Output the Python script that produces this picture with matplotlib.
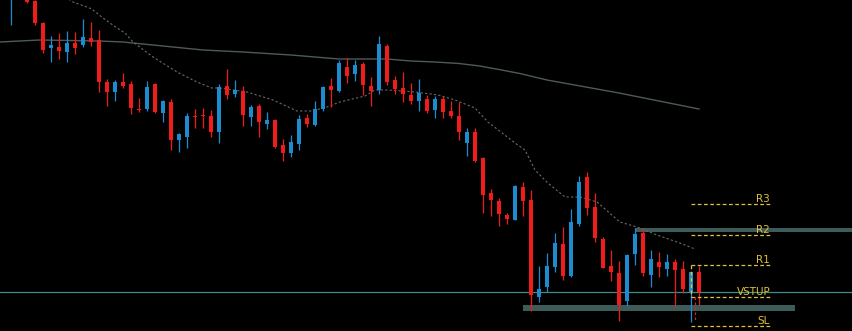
import numpy as np
import matplotlib
matplotlib.use("Agg")
import matplotlib.pyplot as plt
from matplotlib.patches import Rectangle

# candle data in chart units (top of chart = 0, bottom = 331, axis is inverted)
opens = [-5, -25, -8, 1, 23, 48, 47, 52, 43, 45, 38, 40, 82, 92, 82, 84, 109, 109, 84, 113,
         102, 140, 137, 116, 115, 116, 132, 86, 94, 91, 117, 106, 124, 120, 145, 153, 144, 118, 125, 109,
         86, 91, 67, 74, 64, 86, 90, 46, 80, 88, 95, 101, 99, 110, 99, 111, 116, 143, 132, 158,
         193, 201, 215, 220, 187, 200, 297, 287, 267, 244, 276, 224, 177, 207, 239, 266, 273, 301, 254, 233,
         275, 262, 269, 262, 269, 292, 272]
highs = [-30, -32, -15, 0, 22, 36, 33, 31, 32, 19, 22, 30, 79, 80, 73, 81, 98, 81, 83, 100,
         99, 133, 113, 109, 108, 110, 84, 69, 80, 86, 105, 104, 112, 119, 139, 135, 115, 114, 101, 86,
         78, 60, 58, 60, 62, 77, 36, 44, 76, 72, 83, 79, 95, 96, 96, 101, 102, 128, 128, 157,
         189, 198, 213, 185, 182, 190, 266, 253, 233, 227, 209, 176, 172, 193, 237, 250, 261, 254, 228, 229,
         250, 252, 254, 259, 261, 272, 266]
lows = [25, -3, 3, 25, 53, 62, 59, 62, 54, 47, 46, 92, 106, 101, 88, 114, 112, 111, 113, 122,
        150, 152, 148, 128, 128, 137, 143, 99, 97, 126, 126, 137, 129, 148, 161, 157, 150, 127, 126, 111,
        107, 92, 83, 81, 95, 106, 94, 85, 94, 102, 104, 111, 113, 118, 118, 118, 140, 156, 162, 213,
        216, 226, 224, 220, 216, 311, 302, 292, 272, 280, 277, 226, 215, 242, 268, 281, 321, 306, 265, 276,
        287, 277, 276, 307, 293, 322, 305]
closes = [-20, -8, 2, 23, 50, 45, 51, 43, 48, 37, 42, 82, 92, 82, 86, 108, 110, 87, 112, 101,
          140, 134, 116, 117, 116, 132, 87, 95, 90, 115, 107, 122, 120, 147, 153, 142, 119, 124, 109, 87,
          90, 63, 76, 65, 85, 91, 44, 82, 89, 94, 101, 93, 111, 99, 112, 116, 132, 132, 161, 195,
          200, 214, 219, 186, 201, 295, 289, 266, 243, 276, 222, 182, 208, 238, 268, 272, 305, 255, 234, 273,
          259, 267, 262, 270, 289, 272, 292]

# moving averages read at some bars
slow_ma_x = [-1.4, 3.6, 11, 14, 19, 24, 29, 35, 41, 47, 50, 53, 56, 58.6, 61, 63.6, 67, 76, 86]
slow_ma_y = [42, 40, 41, 42, 46, 50, 52, 55, 59, 59, 61, 62, 63.5, 66, 69.5, 73.5, 80, 93, 109]
fast_ma_x = [6.5, 7.75, 9.5, 10.1, 11.5, 13.25, 14.25, 15.25, 17.75, 20.75, 23.25, 25.1, 26.1, 29.5, 32.75,
             35.75, 37.6, 39.5, 41.1, 44.25, 45.5, 47.1, 50.5, 53.4, 55.5, 58, 59.6, 61.4, 63, 64.25,
             65.5, 67.1, 69.25, 71.1, 73.25, 76.1, 78.25, 80.75, 83.6, 85.5]
fast_ma_y = [-5, 2, 7, 9, 18, 28, 33, 42, 57, 72, 82, 88, 88, 92, 100,
             111, 111, 107, 102, 96, 90, 90, 92, 95, 100, 108, 122, 133, 143, 150,
             170, 183, 197, 197, 202, 222, 227, 235, 243, 249]

# levels
base_line = 292
zone_low = (305, 311)
zone_high = (228, 232)
level_names = ["R3", "R2", "R1", "VSTUP", "SL"]
level_values = [204, 235, 265, 297, 326]

red = "#f01c1c"
blue = "#1c8cd0"
yellow = "#e0c03c"
zone_col = "#3c5b59"

fig = plt.figure(figsize=(8.53, 3.31), dpi=100, facecolor="black")
ax = fig.add_axes([0, 0, 1, 1])
ax.set_facecolor("black")
ax.set_xlim(-1.375, 105.25)
ax.set_ylim(331, 0)
ax.axis("off")

x = np.arange(len(opens))
o = np.array(opens, float)
h = np.array(highs, float)
l = np.array(lows, float)
c = np.array(closes, float)
up = c < o
cols = np.where(up, blue, red)

# zones and base line
ax.add_patch(Rectangle((64, zone_low[0]), 34, zone_low[1] - zone_low[0], color=zone_col, lw=0, zorder=1))
ax.add_patch(Rectangle((78, zone_high[0]), 40, zone_high[1] - zone_high[0], color=zone_col, lw=0, zorder=1))
ax.axhline(base_line, color="#3f8c8a", lw=0.9, zorder=1)

# moving averages
ax.plot(slow_ma_x, slow_ma_y, color="#4e5a5a", lw=1, zorder=2)
ax.plot(fast_ma_x, fast_ma_y, color="#6a6a6a", lw=0.8, ls=(0, (2, 2)), zorder=2)

# candles
ax.vlines(x, h, l, colors=cols, lw=0.9, zorder=3)
body = np.maximum(np.abs(c - o), 1.2)
ax.bar(x, body, bottom=np.minimum(o, c), width=0.62, color=cols, lw=0, zorder=4)

# trade levels
for name, val in zip(level_names, level_values):
    ax.hlines(val, 85, 94.9, colors=yellow, lw=0.9, linestyles=(0, (3, 2)), zorder=5)
    ax.text(94.9, val - 2.2, name, color=yellow, fontsize=7.5, ha="right", va="baseline", zorder=6)
ax.vlines(85, level_values[2], level_values[3], colors=yellow, lw=0.9, linestyles=(0, (3, 2)), zorder=5)
ax.vlines(85.5, level_values[3], 322, colors=red, lw=0.9, linestyles=(0, (2, 2)), zorder=5)

fig.savefig("out.png", dpi=100, facecolor="black")
